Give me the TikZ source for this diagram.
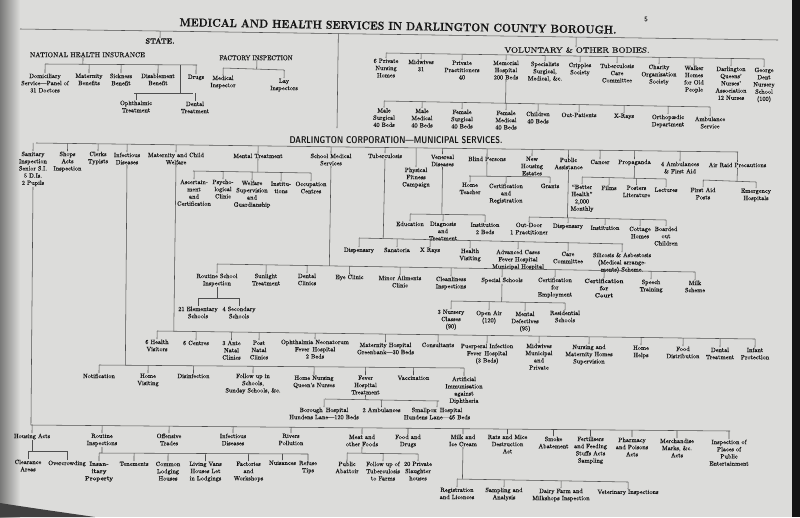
\documentclass[tikz,border=0pt]{standalone}
\usepackage{fontspec}
\setmainfont{lmroman10-regular.otf}[Ligatures=TeX, FakeBold=0.45, BoldFont=lmroman10-bold.otf, ItalicFont=lmroman10-italic.otf]
\usetikzlibrary{calc}
\definecolor{paper}{HTML}{DCDCDA}
\definecolor{ink}{HTML}{141414}
\definecolor{rulec}{HTML}{4F4F4F}
\tikzset{
  lb/.style={anchor=north, align=center, font=\fontsize{6.2}{7.2}\selectfont, inner sep=0.5pt, text=ink},
  lbb/.style={lb, font=\fontsize{6.2}{7.2}\selectfont\bfseries},
  hd/.style={inner sep=0pt, text=ink},
  ln/.style={draw=rulec, line width=0.55pt},
}
\newcommand{\mybus}[5]{\coordinate (#1-L) at (#2,#3);\coordinate (#1-R) at (#4,#5);\draw[ln] (#1-L) -- (#1-R);}
\newcommand{\mydrop}[2]{\draw[ln] (#2) -- ($(#1-L)!(#2)!(#1-R)$);}
\newcommand{\mykids}[2]{\foreach \kk in {#2}{\mydrop{#1}{\kk.north}}}
\newcommand{\myup}[2]{\mydrop{#1}{#2.south}}
\begin{document}
\begin{tikzpicture}[x=1pt,y=-1pt]
\fill[paper] (0,0) rectangle (800,517);
\useasboundingbox (0,0) rectangle (800,517);
\shade[left color=paper!55!black, right color=paper] (0,0) rectangle (20,517);
\fill[black!75] (0,517) -- (0,503) .. controls (25,507) and (60,512) .. (95,517) -- cycle;
\fill[black!92] (792,0) rectangle (800,517);

% ---------- header ----------
\node[hd, rotate=-1] (title) at (398,26) {\resizebox{437pt}{8pt}{\bfseries MEDICAL AND HEALTH SERVICES IN DARLINGTON COUNTY BOROUGH.}};
\node[hd, font=\fontsize{7}{8}\selectfont] (pg) at (646,19) {5};
\mybus{top}{20}{29}{778}{40}
\node[hd, anchor=north] (state) at (160,38) {\resizebox{29pt}{5.5pt}{\bfseries STATE.}};
\mydrop{top}{state.north}
\coordinate (div) at (337,128);
\mydrop{top}{div}

% ---------- State: NHI ----------
\node[hd, anchor=north] (nhi) at (87.5,52) {\resizebox{115pt}{5pt}{NATIONAL HEALTH INSURANCE}};
\coordinate (nhiT) at (83,57);
\mybus{nhib}{45}{64}{197}{65}
\mydrop{nhib}{nhiT}
\node[lb] (dom) at (45,73) {Domiciliary\\Service---Panel of\\31 Doctors};
\node[lb] (matb) at (89,73) {Maternity\\Benefits};
\node[lb] (sick) at (121,73) {Sickness\\Benefit};
\node[lb] (disab) at (158,73) {Disablement\\Benefit};
\node[lb] (drugs) at (196,74) {Drugs};
\mykids{nhib}{dom,matb,sick,disab,drugs}
\coordinate (odj) at (180,64.9);
\mybus{odb}{134}{93}{193}{93}
\mydrop{odb}{odj}
\node[lb] (ophth) at (136,100) {Ophthalmic\\Treatment};
\node[lb] (dentn) at (195,101) {Dental\\Treatment};
\mykids{odb}{ophth,dentn}

% ---------- State: Factory ----------
\node[hd, anchor=north] (fact) at (256,55) {\resizebox{73pt}{5pt}{FACTORY INSPECTION}};
\coordinate (factT) at (257,60);
\mybus{factb}{223}{68}{284}{70}
\mydrop{factb}{factT}
\node[lb] (medi) at (223,75) {Medical\\Inspector};
\node[lb] (layi) at (284,78) {Lay\\Inspectors};
\mykids{factb}{medi,layi}

% ---------- Voluntary ----------
\node[hd, anchor=north] (vol) at (577,47) {\resizebox{145pt}{5.5pt}{VOLUNTARY \& OTHER BODIES.}};
\coordinate (volT) at (576,47);
\mydrop{top}{volT}
\mybus{volb}{386}{53}{764}{59}
\node[lb] (pnh) at (386,58) {6 Private\\Nursing\\Homes};
\node[lb] (midw) at (421,59) {Midwives\\31};
\node[lb] (ppr) at (462,60) {Private\\Practitioners\\40};
\node[lb] (memh) at (506,60) {Memorial\\Hospital\\200 Beds};
\node[lb] (spec) at (545,61) {Specialists\\Surgical,\\Medical, \&c.};
\node[lb] (crip) at (580,62) {Cripples\\Society};
\node[lb] (tbcc) at (617,63) {Tuberculosis\\Care\\Committee};
\node[lb] (coso) at (659,64) {Charity\\Organization\\Society};
\node[lb] (walk) at (694,65) {Walker\\Homes\\for Old\\People};
\node[lb] (dqna) at (731,66) {Darlington\\Queens'\\Nurses'\\Association\\12 Nurses};
\node[lb] (gdns) at (764,67) {George\\Dent\\Nursery\\School\\(100)};
\mykids{volb}{pnh,midw,ppr,memh,spec,crip,tbcc,coso,walk,dqna,gdns}
\mybus{memb}{384}{101}{710}{107}
\myup{memb}{memh}
\node[lb] (msur) at (384,107.5) {Male\\Surgical\\40 Beds};
\node[lb] (mmed) at (422,108) {Male\\Medical\\40 Beds};
\node[lb] (fsur) at (462,109) {Female\\Surgical\\40 Beds};
\node[lb] (fmed) at (506,110) {Female\\Medical\\40 Beds};
\node[lb] (chil) at (538,111) {Children\\40 Beds};
\node[lb] (outp) at (579,112) {Out-Patients};
\node[lb] (xray) at (624,113) {X-Rays};
\node[lb] (orth) at (668,114) {Orthop\ae dic\\Department};
\node[lb] (ambs) at (710,116) {Ambulance\\Service};
\mykids{memb}{msur,mmed,fsur,fmed,chil,outp,xray,orth,ambs}

% ---------- Municipal ----------
\node[hd] (muni) at (396,140.5) {\resizebox{213pt}{7pt}{\sffamily\bfseries DARLINGTON CORPORATION---MUNICIPAL SERVICES.}};
\mybus{mb}{36}{143}{738}{152}
\node[lb] (sani) at (33,151) {Sanitary\\Inspection\\Senior S.I.\\5 D.Is.\\2 Pupils};
\node[lb] (shops) at (67.5,151) {Shops\\Acts\\Inspection};
\node[lb] (clerk) at (98,151) {Clerks\\Typists};
\node[lb] (infd) at (127,152) {Infectious\\Diseases};
\node[lb] (mcw) at (176,152) {Maternity and Child\\Welfare};
\node[lb] (ment) at (258,153) {Mental Treatment};
\node[lb] (smed) at (331,153) {School Medical\\Services};
\node[lb] (tb) at (385,153) {Tuberculosis};
\node[lb] (phys) at (416,167) {Physical\\Fitness\\Campaign};
\node[lb] (vd) at (442.5,154) {Venereal\\Diseases};
\node[lb] (blind) at (487,156) {Blind Persons};
\node[lb] (nhe) at (532,156) {New\\Housing\\Estates};
\node[lb] (pa) at (568.5,157) {Public\\Assistance};
\node[lb] (canc) at (600,159) {Cancer};
\node[lb] (prop) at (634.5,159) {Propaganda};
\node[lb] (amb4) at (680,161) {4 Ambulances\\\& First Aid};
\node[lb] (arp) at (737.5,162) {Air Raid Precautions};
\mykids{mb}{sani,shops,clerk,infd,mcw,ment,smed,tb,phys,vd,blind,nhe,pa,canc,prop,amb4,arp}

% Mental treatment
\mybus{mtb}{193}{171}{311}{173}
\myup{mtb}{ment}
\node[lb] (asc) at (194,179) {Ascertain-\\ment\\and\\Certification};
\node[lb] (psy) at (223,179) {Psycho-\\logical\\Clinic};
\node[lb] (wsg) at (252,180) {Welfare\\Supervision\\and\\Guardianship};
\node[lb] (inst) at (281,181) {Institu-\\tions};
\node[lb] (occ) at (311,181) {Occupation\\Centres};
\mykids{mtb}{asc,psy,wsg,inst,occ}

% Blind persons
\mybus{blb}{469}{176}{550}{177}
\myup{blb}{blind}
\node[lb] (htch) at (470,182) {Home\\Teacher};
\node[lb] (creg) at (506,183) {Certification\\and\\Registration};
\node[lb] (grnt) at (550,183) {Grants};
\mykids{blb}{htch,creg,grnt}

% Propaganda
\mybus{prb}{582}{177}{666}{179}
\myup{prb}{prop}
\node[lb] (bhealth) at (582,184) {``Better\\Health''\\2,000\\Monthly};
\node[lb] (films) at (609,185) {Films};
\node[lb] (post) at (636.5,185) {Posters\\Literature};
\node[lb] (lect) at (666,187) {Lectures};
\mykids{prb}{bhealth,films,post,lect}

% Air raid precautions
\mybus{arb}{703}{180}{756}{182}
\myup{arb}{arp}
\node[lb] (fap) at (703,187) {First Aid\\Posts};
\node[lb] (emh) at (756,188) {Emergency\\Hospitals};
\mykids{arb}{fap,emh}

% Venereal diseases
\mybus{vdb}{410}{214}{485}{215}
\myup{vdb}{vd}
\node[lb] (educ) at (410,221) {Education};
\node[lb] (diag) at (443,221) {Diagnosis\\and\\Treatment};
\node[lb] (inst2) at (485,222) {Institution\\2 Beds};
\mykids{vdb}{educ,diag,inst2}

% Public assistance
\mybus{pab}{529}{217}{666}{220}
\myup{pab}{pa}
\node[lb] (odoor) at (529,222) {Out-Door\\1 Practitioner};
\node[lb] (pdisp) at (568,223) {Dispensary};
\node[lb] (pinst) at (605,225) {Institution};
\node[lb] (cott) at (640,226) {Cottage\\Homes};
\node[lb] (bout) at (666,226) {Boarded\\out\\Children};
\mykids{pab}{odoor,pdisp,pinst,cott,bout}

% Tuberculosis
\mybus{tbb}{359}{238}{623}{244}
\myup{tbb}{tb}
\node[lb] (tdisp) at (359,247) {Dispensary};
\node[lb] (sana) at (397,247) {Sanatoria};
\node[lb] (xr2) at (430,247) {X Rays};
\node[lb] (hvis) at (470,248) {Health\\Visiting};
\node[lb] (adv) at (518,249) {Advanced Cases\\Fever Hospital\\Municipal Hospital};
\node[lb] (care) at (568,251) {Care\\Committee};
\node[lb] (silic) at (622,252) {Silicosis \& Asbestosis\\(Medical arrange-\\ments) Scheme.};
\mykids{tbb}{tdisp,sana,xr2,hvis,adv,care,silic}

% School medical services
\mybus{sb}{217}{264}{695}{272}
\myup{sb}{smed}
\node[lb] (rsi) at (217,273) {Routine School\\Inspection};
\node[lb] (sun) at (266,273) {Sunlight\\Treatment};
\node[lb] (dcl) at (307,273) {Dental\\Clinics};
\node[lb] (eye) at (349.5,274) {Eye Clinic};
\node[lb] (mac) at (400,275) {Minor Ailments\\Clinic};
\node[lb] (cli) at (451,276) {Cleanliness\\Inspections};
\node[lb] (ssch) at (502,277) {Special Schools};
\node[lb] (cemp) at (555,277) {Certification\\for\\Employment};
\node[lbb] (ccrt) at (604,278) {Certification\\for\\Court};
\node[lb] (spt) at (651,279) {Speech\\Training};
\node[lb] (milk) at (695,280) {Milk\\Scheme};
\mykids{sb}{rsi,sun,dcl,eye,mac,cli,ssch,cemp,ccrt,spt,milk}
\mybus{rsb}{198}{298}{239}{298}
\myup{rsb}{rsi}
\node[lb] (el21) at (198,306) {21 Elementary\\Schools};
\node[lb] (sec4) at (239,306) {4 Secondary\\Schools};
\mykids{rsb}{el21,sec4}
\mybus{spb}{451}{301}{565}{303}
\myup{spb}{ssch}
\node[lb] (nurs) at (451,309) {3 Nursery\\Classes\\(90)};
\node[lb] (oair) at (489,310) {Open Air\\(120)};
\node[lb] (mdef) at (525,311) {Mental\\Defectives\\(95)};
\node[lb] (resd) at (565,310) {Residential\\Schools};
\mykids{spb}{nurs,oair,mdef,resd}

% Maternity and child welfare
\mybus{mwb}{157}{331}{755}{339}
\myup{mwb}{mcw}
\node[lb] (hv6) at (157,339) {6 Health\\Visitors};
\node[lb] (cen6) at (196,340) {6 Centres};
\node[lb] (ante) at (231.5,340) {3 Ante\\Natal\\Clinics};
\node[lb] (postn) at (259,340) {Post\\Natal\\Clinics};
\node[lb] (ophn) at (315,339) {Ophthalmia Neonatorum\\Fever\enspace Hospital\\2 Beds};
\node[lb] (mhos) at (385.5,342) {Maternity Hospital\\Greenbank---30 Beds};
\node[lb] (cons) at (438,342) {Consultants};
\node[lb] (puer) at (487,343) {Puerperal Infection\\Fever\enspace Hospital\\(3 Beds)};
\node[lb] (midm) at (539,343) {Midwives\\Municipal\\and\\Private};
\node[lb] (nmhs) at (589,344) {Nursing and\\Maternity Homes\\Supervision};
\node[lb] (hhelp) at (641,345) {Home\\Helps};
\node[lb] (food) at (683,346) {Food\\Distribution};
\node[lb] (dtre) at (720,347) {Dental\\Treatment};
\node[lb] (infp) at (755,347) {Infant\\Protection};
\mykids{mwb}{hv6,cen6,ante,postn,ophn,mhos,cons,puer,midm,nmhs,hhelp,food,dtre,infp}

% Infectious diseases
\mybus{idb}{99}{365}{464}{368}
\myup{idb}{infd}
\node[lb] (notif) at (99,373) {Notification};
\node[lb] (hvis2) at (148,373) {Home\\Visiting};
\node[lb] (disinf) at (193.5,373) {Disinfection};
\node[lb] (folup) at (253,373) {Follow up in\\Schools,\\Sunday Schools, \&c.};
\node[lb] (hnur) at (314,375) {Home Nursing\\Queen's Nurses};
\node[lb] (fevh) at (365.5,375) {Fever\\Hospital\\Treatment};
\node[lb] (vacc) at (413.5,375) {Vaccination};
\node[lb] (arti) at (464,376) {Artificial\\Immunisation\\against\\Diphtheria};
\mykids{idb}{notif,hvis2,disinf,folup,hnur,fevh,vacc,arti}
\mybus{fvb}{325}{399}{439}{401}
\myup{fvb}{fevh}
\node[lb] (boro) at (324,407) {Borough\enspace Hospital\\Hundens Lane---120 Beds};
\node[lb] (amb2) at (381.5,407) {2 Ambulances};
\node[lb] (smpx) at (437,407) {Smallpox\enspace Hospital\\Hundens Lane---46 Beds};
\mykids{fvb}{boro,amb2,smpx}

% Sanitary inspection
\mybus{snb}{31}{425}{730}{431}
\myup{snb}{sani}
\node[lb] (hous) at (32,433) {Housing Acts};
\node[lb] (rins) at (102,433) {Routine\\Inspections};
\node[lb] (offt) at (169,433) {Offensive\\Trades};
\node[lb] (infd2) at (233,433) {Infectious\\Diseases};
\node[lb] (rivp) at (291,433) {Rivers\\Pollution};
\node[lb] (meat) at (362,434) {Meat and\\other Foods};
\node[lb] (fdd) at (408,434) {Food and\\Drugs};
\node[lb] (milkc) at (463,434) {Milk and\\Ice Cream};
\node[lb] (rats) at (507.5,434) {Rats and Mice\\Destruction\\Act};
\node[lb] (smok) at (553.5,436) {Smoke\\Abatement};
\node[lb] (fert) at (590.5,436) {Fertilisers\\and Feeding\\Stuffs Acts\\Sampling};
\node[lb] (phar) at (632,437) {Pharmacy\\and Poisons\\Acts};
\node[lb] (merc) at (677,438) {Merchandise\\Marks, \&c.\\Acts};
\node[lb] (insp) at (729,439) {Inspection of\\Places of\\Public\\Entertainment};
\mykids{snb}{hous,rins,offt,infd2,rivp,meat,fdd,milkc,rats,smok,fert,phar,merc,insp}
\mybus{hab}{28}{451}{68}{451}
\myup{hab}{hous}
\node[lb] (clear) at (28,459) {Clearance\\Areas};
\node[lb] (overc) at (67,460) {Overcrowding};
\mykids{hab}{clear,overc}
\mybus{rib}{99}{453}{308}{454}
\myup{rib}{rins}
\node[lbb] (insan) at (99,461) {Insan-\\itary\\Property};
\node[lb] (tene) at (134,461) {Tenements};
\node[lb] (clh) at (168,461) {Common\\Lodging\\Houses};
\node[lb] (lvan) at (205.5,461) {Living Vans\\Houses Let\\in Lodgings};
\node[lb] (fact2) at (248.5,461) {Factories\\and\\Workshops};
\node[lb] (nuis) at (282.5,460) {Nuisances};
\node[lb] (refu) at (308,460) {Refuse\\Tips};
\mykids{rib}{insan,tene,clh,lvan,fact2,nuis,refu}
\mybus{mfb}{347}{453}{418}{454}
\myup{mfb}{meat}
\node[lb] (abat) at (347,461) {Public\\Abattoir};
\node[lb] (fupt) at (383,461) {Follow up of\\Tuberculosis\\to Farms};
\node[lb] (slau) at (418,461) {20 Private\\Slaughter\\houses};
\mykids{mfb}{abat,fupt,slau}
\mybus{mkb}{457}{479}{628}{482}
\myup{mkb}{milkc}
\node[lb] (regl) at (457,487) {Registration\\and Licences};
\node[lb] (samp) at (504,487) {Sampling and\\Analysis};
\node[lb] (dairy) at (561,488) {Dairy Farm and\\Milkshops Inspection};
\node[lb] (vet) at (628,489) {Veterinary Inspections};
\mykids{mkb}{regl,samp,dairy,vet}
\end{tikzpicture}
\end{document}
